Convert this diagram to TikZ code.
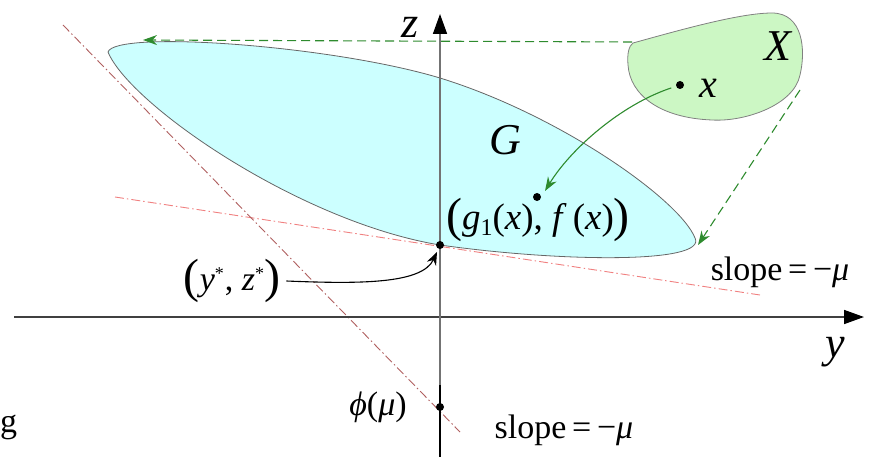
\documentclass[tikz,border=0pt]{standalone}
\usepackage{fontspec}
\setmainfont{Liberation Serif}
\usetikzlibrary{arrows.meta}
\definecolor{gfill}{HTML}{CCFFFF}
\definecolor{xfill}{HTML}{CCF7C4}
\definecolor{dgreen}{HTML}{2E8B2E}
\definecolor{lred}{HTML}{F08080}
\definecolor{dred}{HTML}{B06060}
\tikzset{
  axisline/.style={line width=1.6pt, -{Triangle[length=20pt,width=14pt,color=black]}},
  gdash/.style={dgreen, line width=1.1pt, dash pattern=on 9pt off 5pt, -{Stealth[length=14pt,width=10pt]}},
  gsolid/.style={dgreen, line width=1.1pt, -{Stealth[length=14pt,width=10pt]}},
  tangent/.style={line width=0.9pt, dash pattern=on 9pt off 3pt on 1.5pt off 3pt},
  dotpt/.style={circle, fill=black, inner sep=0pt, minimum size=8pt},
  lbl/.style={font=\fontsize{34}{40}\selectfont, inner sep=0pt},
  biglbl/.style={font=\fontsize{44}{50}\selectfont\itshape, inner sep=0pt}
}
\newcommand{\bigpar}[1]{{\fontsize{48}{48}\selectfont\raisebox{-0.1ex}{#1}}}
\begin{document}
\begin{tikzpicture}[x=1pt,y=-1pt]
\useasboundingbox (0,0) rectangle (872,457);
% region G
\draw[gray!80!black, line width=0.8pt, fill=gfill] (108,52) .. controls (115,30) and (330,45) .. (440,78)
  .. controls (560,115) and (680,200) .. (695,238)
  .. controls (708,264) and (560,262) .. (440,245)
  .. controls (300,222) and (130,105) .. (108,52) -- cycle;
% region X
\draw[gray, line width=0.8pt, fill=xfill] (633,43) .. controls (680,30) and (740,13) .. (772,13)
  .. controls (803,13) and (806,50) .. (800,75)
  .. controls (794,105) and (745,122) .. (712,120)
  .. controls (660,118) and (630,95) .. (628,65)
  .. controls (627,53) and (629,46) .. (633,43) -- cycle;
% tangent lines
\draw[tangent, lred] (115,197) -- (760,295);
\draw[tangent, dred] (63,25) -- (460,432);
% axes
\coordinate (yL) at (14,317);
\coordinate (yR) at (864,317);
\coordinate (zB) at (440,457);
\coordinate (zT) at (440,14);
\draw[axisline, black!75] (yL) -- (yR);
\draw[axisline, black!55] (zB) -- (zT);
\coordinate (zB2) at (440,385);
\draw[line width=2pt, black] (zB) -- (zB2);
% points
\node[dotpt] (ps) at (440,245) {};
\node[dotpt] (pg) at (537,197) {};
\node[dotpt] (px) at (680,85) {};
\node[dotpt] (pphi) at (440,407) {};
% green arrows
\coordinate (a1s) at (632,42);
\coordinate (a1e) at (143,40);
\draw[gdash] (a1s) -- (a1e);
\coordinate (a2s) at (800,90);
\coordinate (a2e) at (698,245);
\draw[gdash] (a2s) -- (a2e);
\draw[gsolid, shorten <=5pt] (px) .. controls (620,105) and (570,150) .. (545,191);
% labels
\node[biglbl] (lz) at (410,27) {z};
\node[biglbl] (ly) at (835,352) {y};
\node[biglbl] (lG) at (505,140) {G};
\node[biglbl] (lX) at (778,46) {X};
\node[biglbl, font=\fontsize{40}{44}\selectfont\itshape] (lx) at (708,88) {x};
\node[lbl, font=\fontsize{37}{42}\selectfont] (lg) at (538,220) {\bigpar{(}\textit{g}\raisebox{-0.35ex}{\fontsize{24}{24}\selectfont 1}(\textit{x}), \textit{f}\,(\textit{x})\bigpar{)}};
\node[lbl] (lys) at (232,281) {\bigpar{(}\textit{y}\raisebox{0.7ex}{\fontsize{18}{18}\selectfont *}\kern1pt, \textit{z}\raisebox{0.7ex}{\fontsize{18}{18}\selectfont *}\bigpar{)}};
\draw[black, line width=1.1pt, -{Stealth[length=13pt,width=10pt]}] (lys.east) ++(6,0) coordinate (lyse) .. controls (360,284) and (422,284) .. (437,252);
\node[lbl] (lphi) at (378,407) {\textit{ϕ}(\textit{μ})};
\node[lbl] (ls1) at (780,272) {slope\,=\,−\textit{μ}};
\node[lbl] (ls2) at (564,430) {slope\,=\,−\textit{μ}};
\node[lbl, anchor=west] (lgg) at (0,427) {g};
\end{tikzpicture}
\end{document}
